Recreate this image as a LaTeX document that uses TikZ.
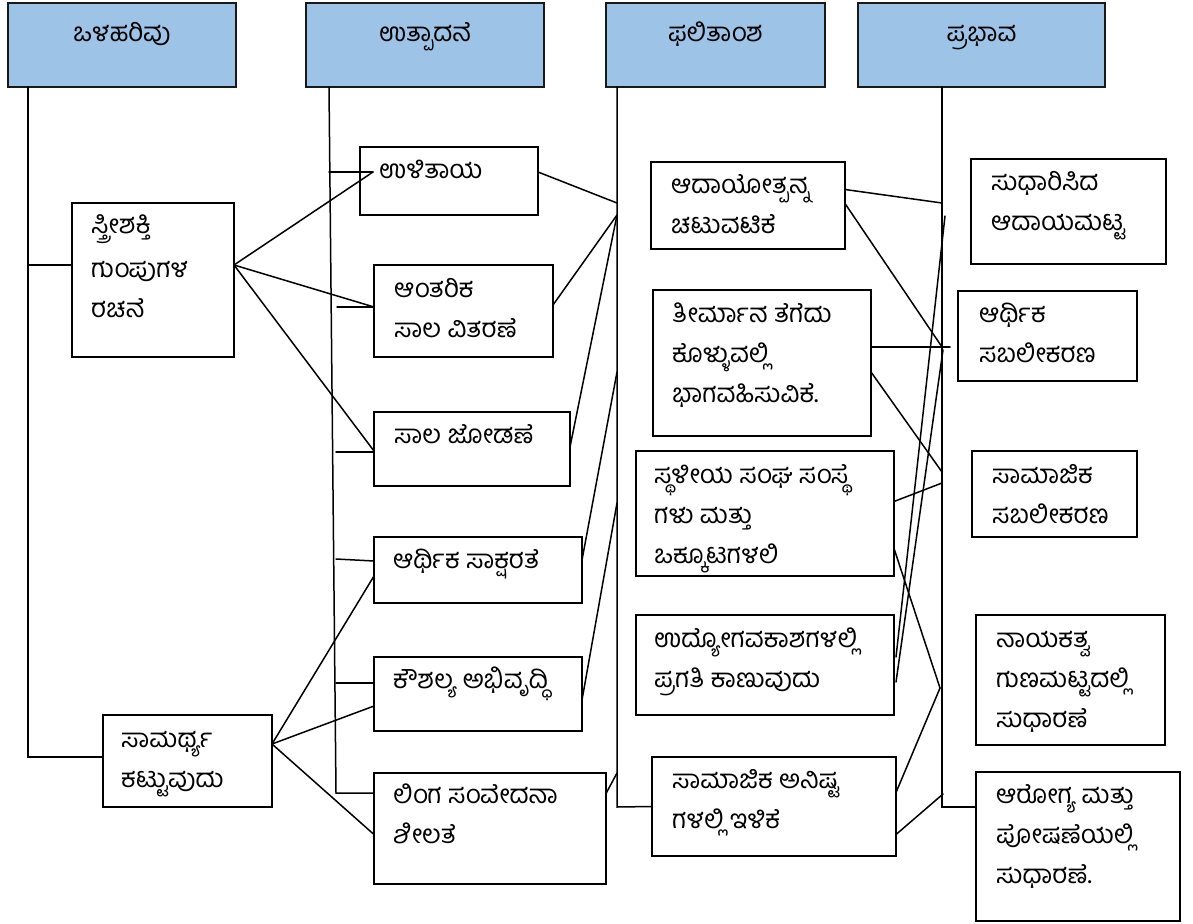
\documentclass[tikz,border=0pt]{standalone}
\usepackage{fontspec}
\newfontfamily\kn[Script=Kannada]{Hind Mysuru}
\usetikzlibrary{calc}
\definecolor{hdrblue}{HTML}{9DC3E6}
\newcommand\kbox[5]{\node[box, minimum width={#4-#2}, minimum height={#5-#3}] (#1) at (#2,#3) {};}
\newcommand\khdr[5]{\node[hdr, minimum width={#4-#2}, minimum height={#5-#3}] (#1) at (#2,#3) {};}
\newcommand\kst{\rule{0pt}{28pt}}
\begin{document}
\begin{tikzpicture}[x=1pt,y=-1pt,
  box/.style={draw=black, line width=1.7pt, inner sep=0pt, outer sep=0pt, anchor=north west},
  hdr/.style={draw=black!90, line width=2.2pt, fill=hdrblue, inner sep=0pt, outer sep=0pt, anchor=north west},
  lbl/.style={font=\kn\fontsize{26}{40}\selectfont, align=left, anchor=north west, inner sep=0pt},
  hlbl/.style={font=\kn\fontsize{26}{40}\selectfont, anchor=base, inner sep=0pt},
  conn/.style={line width=1.5pt, line cap=round}]
\useasboundingbox (0,0) rectangle (1193,923);
\fill[white] (0,0) rectangle (1193,923);

% headers
\khdr{h1}{8}{3}{236}{87}
\khdr{h2}{306}{3}{544}{87}
\khdr{h3}{606}{3}{825}{87}
\khdr{h4}{858}{3}{1105}{87}
\node[hlbl] (h1t) at ($(h1.north)+(0,39)$) {ಒಳಹರಿವು};
\node[hlbl] (h2t) at ($(h2.north)+(0,39)$) {ಉತ್ಪಾದನೆ};
\node[hlbl] (h3t) at ($(h3.north)+(0,39)$) {ಫಲಿತಾಂಶ};
\node[hlbl] (h4t) at ($(h4.north)+(0,39)$) {ಪ್ರಭಾವ};

% input
\kbox{stree}{72}{203}{234}{357}
\kbox{samar}{103}{715}{272}{807}
% output
\kbox{ulit}{360}{147}{538}{215}
\kbox{antar}{374}{265}{553}{357}
\kbox{sala}{374}{412}{570}{486}
\kbox{saks}{374}{537}{582}{603}
\kbox{kaus}{374}{657}{582}{731}
\kbox{linga}{374}{773}{606}{884}
% outcome
\kbox{adaya}{651}{162}{845}{249}
\kbox{teer}{653}{290}{871}{436}
\kbox{sthal}{636}{451}{894}{576}
\kbox{udyo}{636}{615}{894}{715}
\kbox{saman}{652}{757}{896}{856}
% impact
\kbox{sudh}{971}{159}{1166}{264}
\kbox{arsab}{958}{291}{1137}{381}
\kbox{sosab}{972}{451}{1137}{537}
\kbox{nayak}{976}{615}{1165}{745}
\kbox{arog}{976}{772}{1180}{921}

% texts (first baseline = node top + 28)
\node[lbl] (streeT) at ($(stree.north west)+(19,2)$) {\kst ಸ್ತ್ರೀಶಕ್ತಿ\\[4pt]ಗುಂಪುಗಳ\\ರಚನೆ};
\node[lbl] (samarT) at ($(samar.north west)+(18,4)$) {\kst ಸಾಮರ್ಥ್ಯ\\ಕಟ್ಟುವುದು};
\node[lbl] (ulitT) at ($(ulit.north west)+(19,3)$) {\kst ಉಳಿತಾಯ};
\node[lbl] (antarT) at ($(antar.north west)+(20,4)$) {\kst ಆಂತರಿಕ\\ಸಾಲ ವಿತರಣೆ};
\node[lbl] (salaT) at ($(sala.north west)+(20,3)$) {\kst ಸಾಲ ಜೋಡಣೆ};
\node[lbl] (saksT) at ($(saks.north west)+(19,3)$) {\kst ಆರ್ಥಿಕ ಸಾಕ್ಷರತೆ};
\node[lbl] (kausT) at ($(kaus.north west)+(19,3)$) {\kst ಕೌಶಲ್ಯ ಅಭಿವೃದ್ಧಿ};
\node[lbl] (lingaT) at ($(linga.north west)+(19,2)$) {\kst ಲಿಂಗ ಸಂವೇದನಾ\\ಶೀಲತೆ};
\node[lbl] (adayaT) at ($(adaya.north west)+(20,3)$) {\kst ಆದಾಯೋತ್ಪನ್ನ\\ಚಟುವಟಿಕೆ};
\node[lbl] (teerT) at ($(teer.north west)+(19,4)$) {\kst ತೀರ್ಮಾನ ತೆಗೆದು\\ಕೊಳ್ಳುವಲ್ಲಿ\\ಭಾಗವಹಿಸುವಿಕೆ.};
\node[lbl] (sthalT) at ($(sthal.north west)+(18,4)$) {\kst ಸ್ಥಳೀಯ ಸಂಘ ಸಂಸ್ಥೆ\\ಗಳು ಮತ್ತು\\ಒಕ್ಕೂಟಗಳಲಿ};
\node[lbl] (udyoT) at ($(udyo.north west)+(18,4)$) {\kst ಉದ್ಯೋಗವಕಾಶಗಳಲ್ಲಿ\\ಪ್ರಗತಿ ಕಾಣುವುದು};
\node[lbl] (samanT) at ($(saman.north west)+(20,3)$) {\kst ಸಾಮಾಜಿಕ ಅನಿಷ್ಟ\\ಗಳಲ್ಲಿ ಇಳಿಕೆ};
\node[lbl] (sudhT) at ($(sudh.north west)+(20,3)$) {\kst ಸುಧಾರಿಸಿದ\\ಆದಾಯಮಟ್ಟ};
\node[lbl] (arsabT) at ($(arsab.north west)+(21,3)$) {\kst ಆರ್ಥಿಕ\\ಸಬಲೀಕರಣ};
\node[lbl] (sosabT) at ($(sosab.north west)+(20,4)$) {\kst ಸಾಮಾಜಿಕ\\ಸಬಲೀಕರಣ};
\node[lbl] (nayakT) at ($(nayak.north west)+(20,4)$) {\kst ನಾಯಕತ್ವ\\ಗುಣಮಟ್ಟದಲ್ಲಿ\\ಸುಧಾರಣೆ};
\node[lbl] (arogT) at ($(arog.north west)+(20,3)$) {\kst ಆರೋಗ್ಯ ಮತ್ತು\\ಪೋಷಣೆಯಲ್ಲಿ\\ಸುಧಾರಣೆ.};

% spine 1
\coordinate (v1t) at ($(h1.south west)+(20,0)$);
\coordinate (v1s) at (28,265);
\coordinate (v1b) at (28,757);
\draw[conn] (v1t) -- (v1b) -- ($(samar.west)+(0,-4)$);
\draw[conn] (v1s) -- ($(stree.west)+(0,-15)$);

% spine 2
\coordinate (v2t) at ($(h2.south west)+(23,0)$);
\coordinate (v2b) at (336,793);
\coordinate (v2a) at (329,172);
\coordinate (v2c) at (337,307);
\coordinate (v2d) at (336,452);
\coordinate (v2e) at (336,559);
\coordinate (v2f) at (336,683);
\coordinate (ulitIn) at ($(ulit.north west)+(13,25)$);
\draw[conn] (v2t) -- (v2b) -- ($(linga.north west)+(0,20)$);
\draw[conn] (v2a) -- (ulitIn);
\draw[conn] (v2c) -- ($(antar.west)+(0,-4)$);
\draw[conn] (v2d) -- ($(sala.west)+(0,3)$);
\draw[conn] (v2e) -- ($(saks.west)+(0,-9)$);
\draw[conn] (v2f) -- ($(kaus.west)+(0,-11)$);
\draw[conn] ($(stree.east)+(0,-15)$) -- (ulitIn);
\draw[conn] ($(stree.east)+(0,-15)$) -- ($(antar.west)+(0,-4)$);
\draw[conn] ($(stree.east)+(0,-15)$) -- ($(sala.west)+(0,2)$);
\draw[conn] ($(samar.east)+(0,-17)$) -- ($(saks.west)+(0,6)$);
\draw[conn] ($(samar.east)+(0,-17)$) -- ($(kaus.west)+(0,12)$);
\draw[conn] ($(samar.east)+(0,-17)$) -- ($(linga.west)+(0,6)$);

% spine 3
\coordinate (v3t) at ($(h3.south west)+(11,0)$);
\coordinate (v3b) at (617,807);
\coordinate (v3a) at (617,203);
\coordinate (v3c) at (617,215);
\coordinate (v3d) at (617,372);
\coordinate (v3e) at (617,503);
\coordinate (v3f) at (617,773);
\draw[conn] (v3t) -- (v3b) -- (saman.west);
\draw[conn] ($(ulit.east)+(0,-9)$) -- (v3a);
\draw[conn] ($(antar.east)+(0,-6)$) -- (v3c);
\draw[conn] ($(sala.east)+(0,-2)$) -- (v3c);
\draw[conn] ($(saks.east)+(0,-10)$) -- (v3d);
\draw[conn] ($(kaus.east)+(0,6)$) -- (v3e);
\draw[conn] ($(linga.east)+(0,-35)$) -- (v3f);

% spine 4
\coordinate (v4t) at ($(h4.south west)+(84,0)$);
\coordinate (v4b) at (942,807);
\coordinate (v4a) at (942,203);
\coordinate (v4c) at (942,347);
\coordinate (v4x) at (950,347);
\coordinate (v4d) at (942,472);
\coordinate (v4e) at (942,483);
\coordinate (v4f) at (940,688);
\coordinate (v4g) at (945,216);
\coordinate (v4h) at (943,350);
\coordinate (v4i) at (943,794);
\draw[conn] (v4t) -- (v4b) -- ($(arog.north west)+(0,35)$);
\draw[conn] ($(adaya.east)+(0,-16)$) -- (v4a);
\draw[conn] ($(adaya.east)+(0,-2)$) -- (v4c);
\draw[conn] ($(teer.east)+(0,-16)$) -- (v4x);
\draw[conn] ($(teer.east)+(0,9)$) -- (v4d);
\draw[conn] ($(sthal.east)+(0,-12)$) -- (v4e);
\draw[conn] ($(sthal.east)+(0,35)$) -- (v4f);
\draw[conn] ($(udyo.east)+(2,-8)$) -- (v4g);
\draw[conn] ($(udyo.east)+(2,17)$) -- (v4h);
\draw[conn] ($(saman.east)+(0,-14)$) -- (v4f);
\draw[conn] ($(saman.east)+(0,28)$) -- (v4i);
\end{tikzpicture}
\end{document}
